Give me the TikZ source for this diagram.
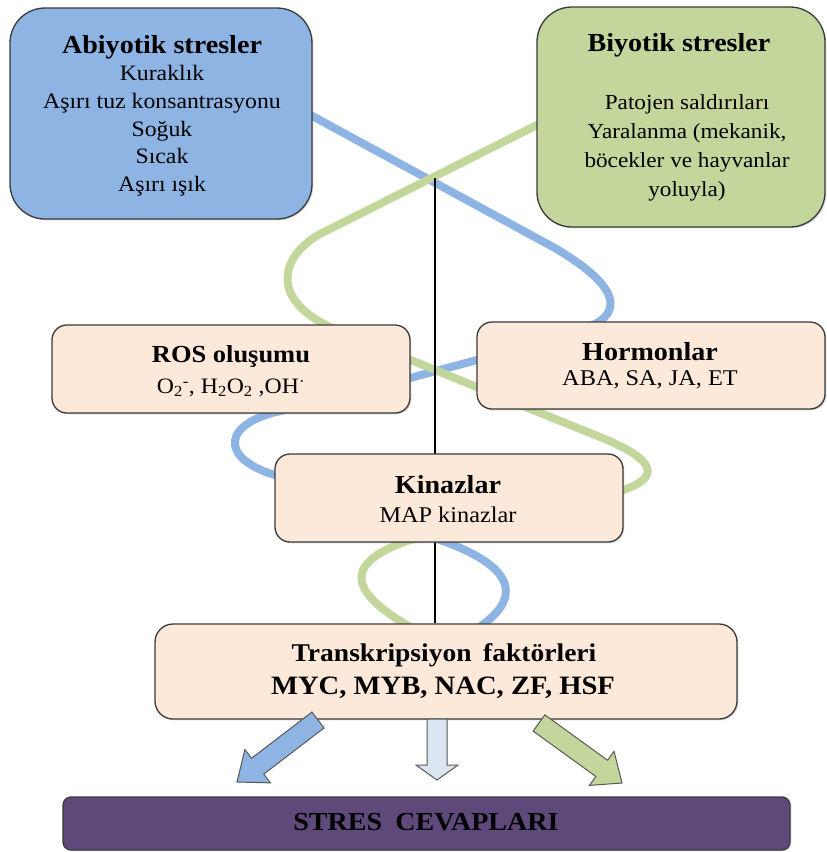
\documentclass[tikz,border=0pt]{standalone}
\usepackage{fontspec}
\setmainfont[FakeStretch=1.08]{Liberation Serif}
\usetikzlibrary{calc,shadows}
\definecolor{abioblue}{HTML}{8EB4E3}
\definecolor{biogreen}{HTML}{C3D69B}
\definecolor{peach}{HTML}{FDE9D9}
\definecolor{purp}{HTML}{5F497A}
\definecolor{paleblue}{HTML}{DCE6F2}
\definecolor{edgegray}{HTML}{3A3A3A}
\newcommand\blockarr[5]{%
  \coordinate (#5n) at ($(#2)!#3!(#1)$);
  \draw[#4] ($(#1)!10pt!90:(#2)$) -- ($(#5n)!10pt!90:(#2)$) -- ($(#5n)!21pt!90:(#2)$) -- (#2)
    -- ($(#5n)!21pt!-90:(#2)$) -- ($(#5n)!10pt!-90:(#2)$) -- ($(#1)!10pt!-90:(#2)$) -- cycle;}
\begin{document}
\begin{tikzpicture}[x=1pt,y=-1pt,
  box/.style={draw=edgegray,line width=1.3pt,inner sep=0pt,
    drop shadow={shadow xshift=1.3pt,shadow yshift=-1.3pt,opacity=0.3}},
  peachbox/.style={box,fill=peach,rounded corners=15pt},
  curveblue/.style={draw=abioblue,line width=8pt,line join=round,line cap=round},
  curvegreen/.style={draw=biogreen,line width=8pt,line join=round,line cap=round},
  stem/.style={draw=black,line width=1.2pt},
  head/.style={font=\fontsize{26}{30}\selectfont\bfseries},
  body/.style={font=\fontsize{22}{27.7}\selectfont,align=center},
  barrow/.style={draw=edgegray!85,line width=1pt,line join=miter}]
\fill[white] (0,0) rectangle (827,852);
\useasboundingbox (0,0) rectangle (827,852);

% intertwined curves (behind the boxes)
\draw[curveblue] (305,112) -- (553,247) .. controls (612,281) and (625,308) .. (595,324)
  -- (477,360) -- (410,378) -- (285,410) .. controls (222,422) and (218,458) .. (275,475)
  -- (440,540) .. controls (520,568) and (520,600) .. (478,628);
\draw[curvegreen] (545,121) -- (320,234) .. controls (278,258) and (272,300) .. (330,327)
  -- (533,410) -- (600,437) .. controls (657,460) and (662,478) .. (620,491)
  -- (410,540) .. controls (345,562) and (345,590) .. (412,628);

% boxes
\node[box,fill=abioblue,rounded corners=35pt,minimum width=302pt,minimum height=211pt] (abio) at (161,113.5) {};
\node[box,fill=biogreen,rounded corners=35pt,minimum width=288pt,minimum height=220pt] (bio) at (681,117) {};
\node[box,fill=peach,rounded corners=18pt,minimum width=582pt,minimum height=95pt] (tf) at (446,671.5) {};

\coordinate (cross) at (435,178);
\draw[stem] (cross) -- (cross |- tf.north);

\node[peachbox,minimum width=358pt,minimum height=88pt] (ros) at (231,369) {};
\node[peachbox,minimum width=348pt,minimum height=87pt] (horm) at (651,365.5) {};
\node[peachbox,minimum width=348pt,minimum height=88pt] (kin) at (449,498) {};
\node[box,fill=purp,rounded corners=8pt,minimum width=727pt,minimum height=53pt] (stres) at (426.5,823.5) {};

% texts
\node[head] (abio-h) at (162,47) {Abiyotik stresler};
\node[body] (abio-b) at (162,131) {Kuraklık\\Aşırı tuz konsantrasyonu\\Soğuk\\Sıcak\\Aşırı ışık};
\node[head] (bio-h) at (679,45) {Biyotik stresler};
\node[body,font=\fontsize{21.5}{29}\selectfont] (bio-b) at (687,148) {Patojen saldırıları\\Yaralanma (mekanik,\\böcekler ve hayvanlar\\yoluyla)};
\node[head,font=\fontsize{24.5}{28}\selectfont\bfseries] (ros-h) at (231,357) {ROS oluşumu};
\node[body] (ros-b) at (231,388) {O\textsubscript{2}\textsuperscript{-}, H\textsubscript{2}O\textsubscript{2} ,OH\textsuperscript{·}};
\node[head] (horm-h) at (650,352) {Hormonlar};
\node[body,font=\fontsize{22.5}{27}\selectfont] (horm-b) at (650,380) {ABA, SA, JA, ET};
\node[head] (kin-h) at (448,485) {Kinazlar};
\node[body,font=\fontsize{22.5}{27}\selectfont] (kin-b) at (448,515) {MAP kinazlar};
\node[head,font=\fontsize{25.5}{30}\selectfont\bfseries] (tf-h) at (444,655) {Transkripsiyon\hspace{0.45em}faktörleri};
\node[head,font=\fontsize{26.5}{30}\selectfont\bfseries] (tf-b) at (443,688) {MYC, MYB, NAC, ZF, HSF};
\node[head] (stres-t) at (426,822) {STRES\hspace{0.5em}CEVAPLARI};

% block arrows
\coordinate (a1s) at (318,720); \coordinate (a1e) at (237,782);
\coordinate (a2s) at (437,719); \coordinate (a2e) at (437,780);
\coordinate (a3s) at (539,723); \coordinate (a3e) at (622,783);
\blockarr{a1s}{a1e}{26pt}{barrow,fill=abioblue}{a1}
\blockarr{a2s}{a2e}{15pt}{barrow,fill=paleblue}{a2}
\blockarr{a3s}{a3e}{25pt}{barrow,fill=biogreen}{a3}
\end{tikzpicture}
\end{document}
